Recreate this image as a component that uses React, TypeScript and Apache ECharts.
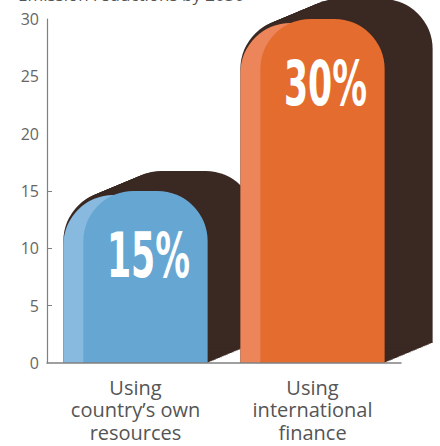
import React, { useEffect, useRef } from 'react';
import * as echarts from 'echarts';

const titleText = 'Emission reductions by 2030';
const categories = ['Using\ncountry\u2019s own\nresources', 'Using\ninternational\nfinance'];
const values = [15, 30];
const frontColors = ['#66a6d2', '#e46c2e'];
const sideColors = ['#88b9de', '#ec865a'];
const shadowColor = '#3a2822';
const tickValues = [5, 10, 15];

export default function App() {
  const ref = useRef<HTMLDivElement>(null);

  useEffect(() => {
    const chart = echarts.init(ref.current as HTMLDivElement, null, { renderer: 'svg' });
    const data = values.map((v, i) => [i, v]);
    const R = 50;
    const SIDE = 20;

    const geom = (api: any) => {
      const idx = api.value(0) as number;
      const v = api.value(1) as number;
      const top = api.coord([idx, v]);
      const y0 = api.coord([idx, 0])[1];
      const bw = api.size([1, 0])[0] * 0.815;
      const x0 = top[0] - bw / 2;
      return { idx, v, x0, yt: top[1], y0, bw };
    };

    chart.setOption({
      animation: false,
      backgroundColor: '#ffffff',
      grid: { left: 47, right: 39, top: 19, bottom: 83 },
      graphic: [
        {
          type: 'text',
          left: 18,
          top: -14,
          style: { text: titleText, fontSize: 17, fill: '#555', fontFamily: 'Open Sans' },
        },
      ],
      xAxis: {
        type: 'category',
        data: categories,
        axisLine: { lineStyle: { color: '#808080', width: 1.5 } },
        axisTick: { show: false },
        axisLabel: {
          margin: 13,
          fontSize: 20,
          lineHeight: 22.5,
          color: '#555',
          fontFamily: 'Open Sans',
          interval: 0,
        },
        z: 3,
      },
      yAxis: {
        type: 'value',
        min: 0,
        max: 30,
        interval: 5,
        splitLine: { show: false },
        axisLine: { show: true, lineStyle: { color: '#808080', width: 1.2 } },
        axisTick: {
          show: true,
          inside: true,
          length: 5,
          customValues: tickValues,
          lineStyle: { color: '#808080' },
        },
        axisLabel: { margin: 8, fontSize: 16, color: '#666', fontFamily: 'Open Sans' },
      },
      series: [
        {
          type: 'custom',
          clip: false,
          z: 1,
          data,
          renderItem: (_params: any, api: any) => {
            const g = geom(api);
            const steps = 24;
            const dx = 48;
            const dy = -20;
            const children: any[] = [];
            for (let k = 0; k <= steps; k++) {
              children.push({
                type: 'rect',
                shape: {
                  x: g.x0 + (dx * k) / steps,
                  y: g.yt + (dy * k) / steps,
                  width: g.bw,
                  height: g.y0 - g.yt,
                  r: [R, R, 0, 0],
                },
                style: { fill: shadowColor },
              });
            }
            return { type: 'group', children };
          },
        },
        {
          type: 'custom',
          clip: false,
          z: 2,
          data,
          renderItem: (_params: any, api: any) => {
            const g = geom(api);
            return {
              type: 'group',
              children: [
                {
                  type: 'rect',
                  shape: { x: g.x0, y: g.yt + 4, width: g.bw - SIDE, height: g.y0 - g.yt - 4, r: [R, R, 0, 0] },
                  style: { fill: sideColors[g.idx] },
                },
                {
                  type: 'rect',
                  shape: { x: g.x0 + SIDE, y: g.yt, width: g.bw - SIDE, height: g.y0 - g.yt, r: [R, R, 0, 0] },
                  style: { fill: frontColors[g.idx] },
                },
                {
                  type: 'text',
                  x: g.x0 + SIDE + (g.bw - SIDE) / 2 + 3,
                  y: g.yt + 64,
                  scaleX: 0.56,
                  style: {
                    text: `${g.v}%`,
                    fill: '#ffffff',
                    fontSize: 62,
                    fontWeight: 'bold',
                    fontFamily: 'DejaVu Sans',
                    align: 'center',
                    verticalAlign: 'middle',
                  },
                },
              ],
            };
          },
        },
      ],
    });

    return () => chart.dispose();
  }, []);

  return <div ref={ref} style={{ width: 440, height: 446, position: 'absolute', left: 0, top: 0 }} />;
}
